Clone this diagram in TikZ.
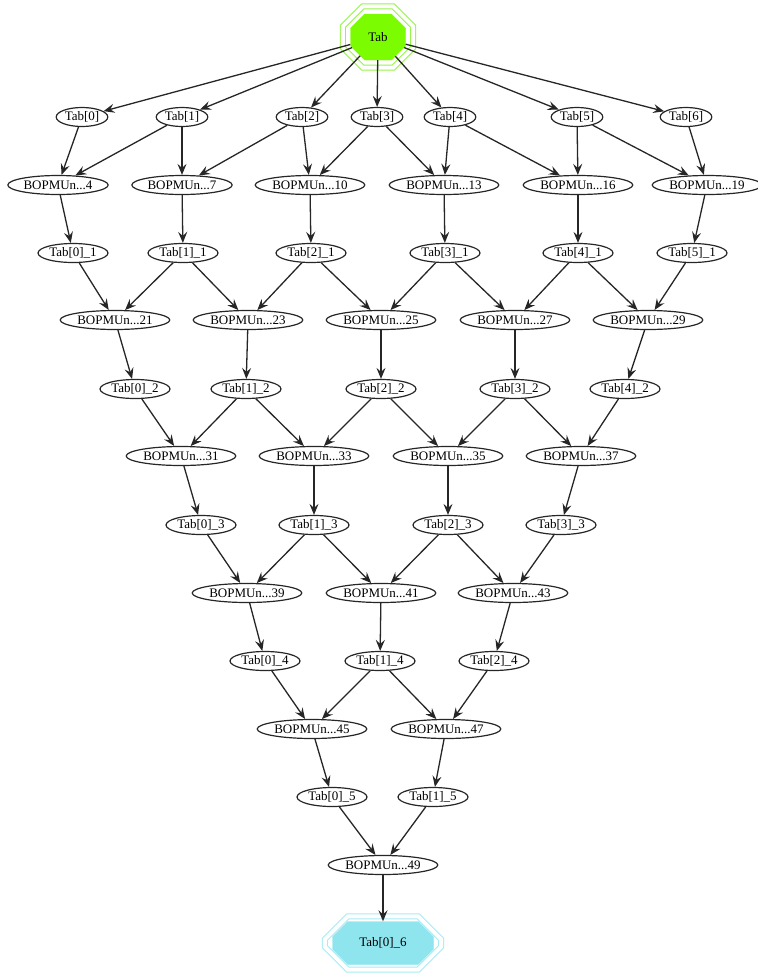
\documentclass[tikz,border=0pt]{standalone}
\usepackage{fontspec}
\setmainfont{Liberation Serif}
\usetikzlibrary{arrows.meta,shapes.misc,shapes.geometric,fit}
\definecolor{tabgreen}{RGB}{124,252,0}
\definecolor{ringgreen}{RGB}{150,245,70}
\definecolor{tabcyan}{RGB}{142,229,238}
\definecolor{ringcyan}{RGB}{168,236,244}

\begin{document}
\begin{tikzpicture}[x=1pt,y=-1pt,>={Stealth[length=11pt,width=9pt,inset=4pt]},
  every node/.style={font=\fontsize{13}{15}\selectfont},
  var/.style={ellipse,draw=black!85,line width=1.2pt,inner sep=1pt,minimum height=19pt},
  op/.style={var},
  octo/.style={chamfered rectangle,chamfered rectangle xsep=9pt,chamfered rectangle ysep=11pt,inner sep=0pt},
  ring/.style={octo,double=white,double distance=4pt,line width=1pt},
  edge/.style={->,draw=black!85,line width=1.3pt}]
  \useasboundingbox (0,0) rectangle (758,975);
  % source and sink
  \node[octo,fill=tabgreen,draw=tabgreen,minimum width=55pt,minimum height=46pt] (tab) at (378,37) {Tab};
  \node[ring,draw=ringgreen,inner xsep=-1.5pt,inner ysep=-3.5pt,fit=(tab)] (tabring) {};
  \node[octo,fill=tabcyan,draw=tabcyan,chamfered rectangle xsep=13pt,chamfered rectangle ysep=10pt,minimum width=101pt,minimum height=43pt] (t0_6) at (383,943) {Tab[0]\_6};
  \node[ring,draw=ringcyan,chamfered rectangle xsep=13pt,chamfered rectangle ysep=10pt,inner xsep=-5.5pt,inner ysep=-5pt,fit=(t0_6)] (t0_6ring) {};
  % row 1
  \node[var] (t0) at (82,117) {Tab[0]};
  \node[var] (t1) at (182,117) {Tab[1]};
  \node[var] (t2) at (302,117) {Tab[2]};
  \node[var] (t3) at (377,117) {Tab[3]};
  \node[var] (t4) at (450,117) {Tab[4]};
  \node[var] (t5) at (577,117) {Tab[5]};
  \node[var] (t6) at (686,117) {Tab[6]};
  % row 2
  \node[op] (b4) at (58,185) {BOPMUn...4};
  \node[op] (b7) at (182,185) {BOPMUn...7};
  \node[op] (b10) at (310,185) {BOPMUn...10};
  \node[op] (b13) at (444,185) {BOPMUn...13};
  \node[op] (b16) at (578,185) {BOPMUn...16};
  \node[op] (b19) at (707,185) {BOPMUn...19};
  % row 3
  \node[var] (t0_1) at (73,253) {Tab[0]\_1};
  \node[var] (t1_1) at (183,253) {Tab[1]\_1};
  \node[var] (t2_1) at (311,253) {Tab[2]\_1};
  \node[var] (t3_1) at (445,253) {Tab[3]\_1};
  \node[var] (t4_1) at (578,253) {Tab[4]\_1};
  \node[var] (t5_1) at (692,253) {Tab[5]\_1};
  % row 4
  \node[op] (b21) at (115,320) {BOPMUn...21};
  \node[op] (b23) at (248,320) {BOPMUn...23};
  \node[op] (b25) at (381,320) {BOPMUn...25};
  \node[op] (b27) at (515,320) {BOPMUn...27};
  \node[op] (b29) at (648,320) {BOPMUn...29};
  % row 5
  \node[var] (t0_2) at (135,389) {Tab[0]\_2};
  \node[var] (t1_2) at (246,389) {Tab[1]\_2};
  \node[var] (t2_2) at (381,389) {Tab[2]\_2};
  \node[var] (t3_2) at (515,389) {Tab[3]\_2};
  \node[var] (t4_2) at (625,389) {Tab[4]\_2};
  % row 6
  \node[op] (b31) at (181,456) {BOPMUn...31};
  \node[op] (b33) at (314,456) {BOPMUn...33};
  \node[op] (b35) at (448,456) {BOPMUn...35};
  \node[op] (b37) at (581,456) {BOPMUn...37};
  % row 7
  \node[var] (t0_3) at (201,525) {Tab[0]\_3};
  \node[var] (t1_3) at (314,525) {Tab[1]\_3};
  \node[var] (t2_3) at (448,525) {Tab[2]\_3};
  \node[var] (t3_3) at (561,525) {Tab[3]\_3};
  % row 8
  \node[op] (b39) at (247,593) {BOPMUn...39};
  \node[op] (b41) at (381,593) {BOPMUn...41};
  \node[op] (b43) at (513,593) {BOPMUn...43};
  % row 9
  \node[var] (t0_4) at (265,661) {Tab[0]\_4};
  \node[var] (t1_4) at (380,661) {Tab[1]\_4};
  \node[var] (t2_4) at (494,661) {Tab[2]\_4};
  % row 10
  \node[op] (b45) at (312,729) {BOPMUn...45};
  \node[op] (b47) at (446,729) {BOPMUn...47};
  % row 11
  \node[var] (t0_5) at (332,797) {Tab[0]\_5};
  \node[var] (t1_5) at (433,797) {Tab[1]\_5};
  % row 12
  \node[op] (b49) at (383,865) {BOPMUn...49};

  % edges
  \draw[edge] (tab) -- (t0); \draw[edge] (tab) -- (t1); \draw[edge] (tab) -- (t2);
  \draw[edge] (tab) -- (t3); \draw[edge] (tab) -- (t4); \draw[edge] (tab) -- (t5);
  \draw[edge] (tab) -- (t6);
  \draw[edge] (t0) -- (b4); \draw[edge] (t1) -- (b4); \draw[edge] (t1) -- (b7);
  \draw[edge] (t2) -- (b7); \draw[edge] (t2) -- (b10); \draw[edge] (t3) -- (b10);
  \draw[edge] (t3) -- (b13); \draw[edge] (t4) -- (b13); \draw[edge] (t4) -- (b16);
  \draw[edge] (t5) -- (b16); \draw[edge] (t5) -- (b19); \draw[edge] (t6) -- (b19);
  \draw[edge] (b4) -- (t0_1); \draw[edge] (b7) -- (t1_1); \draw[edge] (b10) -- (t2_1);
  \draw[edge] (b13) -- (t3_1); \draw[edge] (b16) -- (t4_1); \draw[edge] (b19) -- (t5_1);
  \draw[edge] (t0_1) -- (b21); \draw[edge] (t1_1) -- (b21); \draw[edge] (t1_1) -- (b23);
  \draw[edge] (t2_1) -- (b23); \draw[edge] (t2_1) -- (b25); \draw[edge] (t3_1) -- (b25);
  \draw[edge] (t3_1) -- (b27); \draw[edge] (t4_1) -- (b27); \draw[edge] (t4_1) -- (b29);
  \draw[edge] (t5_1) -- (b29);
  \draw[edge] (b21) -- (t0_2); \draw[edge] (b23) -- (t1_2); \draw[edge] (b25) -- (t2_2);
  \draw[edge] (b27) -- (t3_2); \draw[edge] (b29) -- (t4_2);
  \draw[edge] (t0_2) -- (b31); \draw[edge] (t1_2) -- (b31); \draw[edge] (t1_2) -- (b33);
  \draw[edge] (t2_2) -- (b33); \draw[edge] (t2_2) -- (b35); \draw[edge] (t3_2) -- (b35);
  \draw[edge] (t3_2) -- (b37); \draw[edge] (t4_2) -- (b37);
  \draw[edge] (b31) -- (t0_3); \draw[edge] (b33) -- (t1_3); \draw[edge] (b35) -- (t2_3);
  \draw[edge] (b37) -- (t3_3);
  \draw[edge] (t0_3) -- (b39); \draw[edge] (t1_3) -- (b39); \draw[edge] (t1_3) -- (b41);
  \draw[edge] (t2_3) -- (b41); \draw[edge] (t2_3) -- (b43); \draw[edge] (t3_3) -- (b43);
  \draw[edge] (b39) -- (t0_4); \draw[edge] (b41) -- (t1_4); \draw[edge] (b43) -- (t2_4);
  \draw[edge] (t0_4) -- (b45); \draw[edge] (t1_4) -- (b45); \draw[edge] (t1_4) -- (b47);
  \draw[edge] (t2_4) -- (b47);
  \draw[edge] (b45) -- (t0_5); \draw[edge] (b47) -- (t1_5);
  \draw[edge] (t0_5) -- (b49); \draw[edge] (t1_5) -- (b49);
  \draw[edge] (b49) -- (t0_6);
\end{tikzpicture}
\end{document}
